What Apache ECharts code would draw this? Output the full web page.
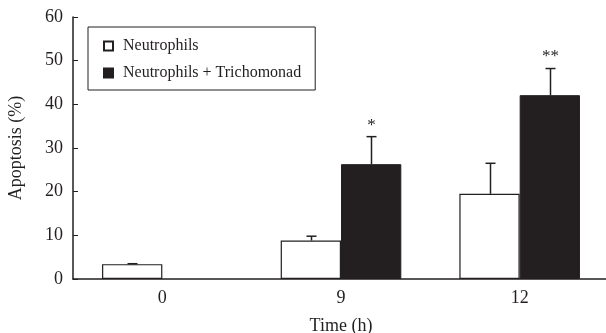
<!DOCTYPE html>
<html>
<head>
<meta charset="utf-8">
<script src="https://cdn.jsdelivr.net/npm/echarts@6/dist/echarts.min.js"></script>
<style>
  html, body { margin: 0; padding: 0; background: #fff; }
  #chart { width: 606px; height: 333px; }
</style>
</head>
<body>
<div id="chart"></div>
<script>
// values
var categories = ["0", "9", "12"];
var neutrophils = [3.4, 8.8, 19.5];
var neutrophilsErr = [0.1, 1.0, 7.0];
var trichomonad = ["-", 26.3, 42.1];
var trichomonadErr = ["-", 6.3, 6.1];
var significance = ["", "*", "**"];

var ink = "#231f20";
var font = "'Liberation Serif', 'DejaVu Serif', serif";
var catGap = 0.325;

function errData(vals, errs) {
  return vals.map(function (v, i) {
    return v === "-" ? [i, "-", "-", ""] : [i, v, errs[i], significance[i]];
  });
}

function errRenderer(side, withSig) {
  return function (params, api) {
    var v = api.value(1);
    if (isNaN(v)) return;
    var cat = api.value(0);
    var err = api.value(2);
    var bandW = api.size([1, 0])[0];
    var barW = bandW * (1 - catGap) / 2;
    var base = api.coord([cat, v]);
    var top = api.coord([cat, v + err]);
    var x = Math.round(base[0] + side * barW / 2) + 0.5;
    var kids = [
      { type: "line", shape: { x1: x, y1: base[1], x2: x, y2: top[1] },
        style: { stroke: ink, lineWidth: 1.5 } },
      { type: "line", shape: { x1: x - 5, y1: top[1], x2: x + 5, y2: top[1] },
        style: { stroke: ink, lineWidth: 1.5 } }
    ];
    var sig = withSig ? significance[cat] : "";
    if (sig) {
      kids.push({ type: "text", x: x, y: top[1] - 3,
        style: { text: sig, fill: ink, font: "17px " + font,
          textAlign: "center", textVerticalAlign: "bottom" } });
    }
    return { type: "group", children: kids };
  };
}

var chart = echarts.init(document.getElementById("chart"), null, { renderer: "canvas" });
chart.setOption({
  animation: false,
  backgroundColor: "#fff",
  textStyle: { fontFamily: font, color: ink },
  grid: { left: 73, right: -3, top: 17, bottom: 54, outerBoundsMode: "none" },
  legend: {
    orient: "vertical",
    left: 88,
    top: 27,
    padding: [11, 14, 9, 15],
    itemGap: 11,
    itemWidth: 9,
    itemHeight: 9,
    borderColor: ink,
    borderWidth: 1,
    textStyle: { fontFamily: font, fontSize: 16, color: ink, padding: [0, 0, 0, 5] },
    data: [
      { name: "Neutrophils", icon: "rect" },
      { name: "Neutrophils + Trichomonad", icon: "rect" }
    ]
  },
  xAxis: {
    type: "category",
    data: categories,
    name: "Time (h)",
    nameLocation: "middle",
    nameGap: 38,
    nameTextStyle: { fontFamily: font, fontSize: 18, color: ink },
    axisLine: { lineStyle: { color: ink, width: 1.5 } },
    axisTick: { inside: true, length: 5, lineStyle: { color: ink } },
    axisLabel: { fontFamily: font, fontSize: 18, color: ink, margin: 10 }
  },
  yAxis: {
    type: "value",
    min: 0,
    max: 60,
    interval: 10,
    name: "Apoptosis (%)",
    nameLocation: "middle",
    nameGap: 48,
    nameTextStyle: { fontFamily: font, fontSize: 18, color: ink },
    splitLine: { show: false },
    axisLine: { show: true, lineStyle: { color: ink, width: 1.5 } },
    axisTick: { show: true, inside: true, length: 5, lineStyle: { color: ink } },
    axisLabel: { fontFamily: font, fontSize: 18, color: ink, margin: 10 }
  },
  series: [
    {
      name: "Neutrophils",
      type: "bar",
      data: neutrophils,
      barGap: "0%",
      barCategoryGap: (catGap * 100) + "%",
      itemStyle: { color: "#fff", borderColor: ink, borderWidth: 1.2 }
    },
    {
      name: "Neutrophils + Trichomonad",
      type: "bar",
      data: trichomonad,
      itemStyle: { color: ink, borderColor: ink, borderWidth: 1 }
    },
    {
      type: "custom",
      renderItem: errRenderer(-1, false),
      data: errData(neutrophils, neutrophilsErr),
      encode: { x: 0, y: 1 },
      z: 3
    },
    {
      type: "custom",
      renderItem: errRenderer(1, true),
      data: errData(trichomonad, trichomonadErr),
      encode: { x: 0, y: 1 },
      z: 3
    }
  ]
});
</script>
</body>
</html>
